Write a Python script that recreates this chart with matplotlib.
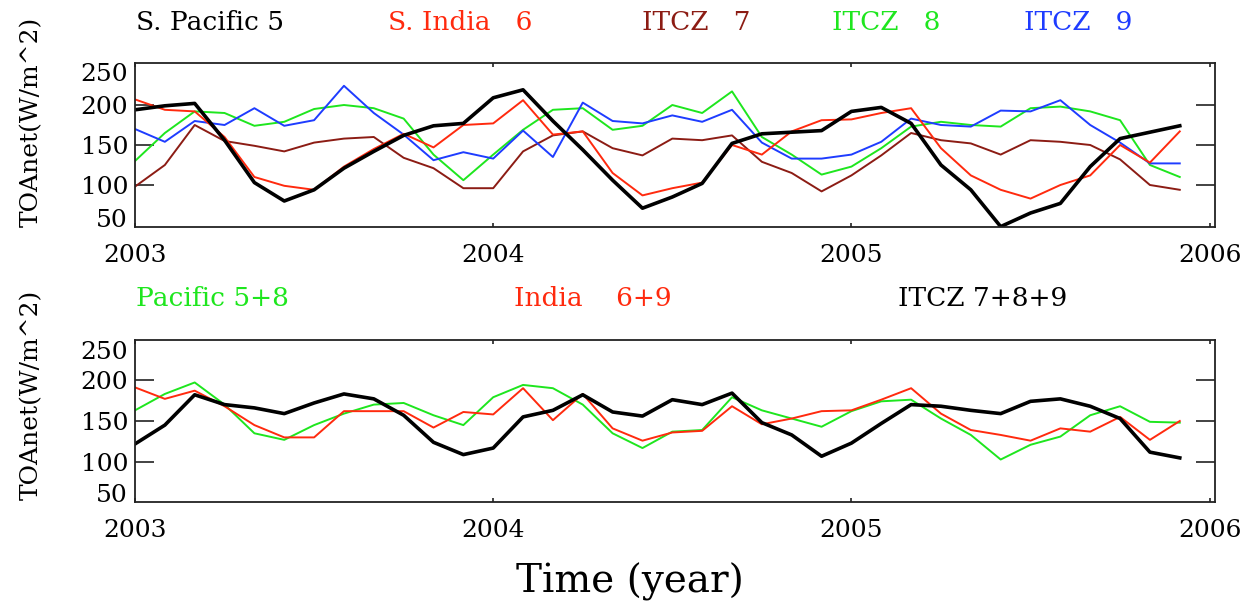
import numpy as np
import matplotlib
matplotlib.use("Agg")
import matplotlib.pyplot as plt

# monthly TOA net flux, Jan 2003 - Dec 2005
months = np.arange(36)
time = 2003 + months / 12.0

s_pacific_5 = [194, 199, 202, 156, 103, 80, 94, 121, 142, 162, 174, 177,
               209, 219, 180, 144, 106, 71, 85, 102, 152, 164, 166, 168,
               192, 197, 177, 125, 94, 48, 65, 77, 123, 158, 166, 174]
s_india_6 = [207, 194, 192, 160, 110, 99, 94, 123, 145, 164, 147, 175,
             177, 206, 163, 167, 115, 87, 96, 103, 150, 138, 167, 181,
             182, 190, 196, 146, 112, 94, 83, 100, 112, 150, 128, 167]
itcz_7 = [98, 125, 175, 155, 149, 142, 153, 158, 160, 134, 121, 96,
          96, 142, 162, 167, 146, 137, 158, 156, 162, 129, 115, 92,
          112, 137, 165, 156, 152, 138, 156, 154, 150, 132, 100, 94]
itcz_8 = [130, 165, 192, 190, 174, 179, 195, 200, 196, 183, 138, 106,
          138, 169, 194, 196, 169, 174, 200, 190, 217, 160, 138, 113,
          123, 146, 173, 179, 175, 173, 196, 198, 192, 181, 125, 110]
itcz_9 = [170, 154, 180, 175, 196, 174, 181, 224, 190, 163, 131, 141,
          133, 168, 135, 203, 180, 177, 187, 179, 194, 153, 133, 133,
          138, 154, 183, 175, 173, 193, 192, 206, 175, 153, 127, 127]

pacific_5_8 = [163, 183, 197, 170, 135, 127, 145, 159, 170, 172, 157, 145,
               179, 194, 190, 170, 135, 117, 137, 139, 179, 163, 153, 143,
               162, 174, 176, 153, 133, 103, 121, 131, 157, 168, 149, 148]
india_6_9 = [191, 177, 187, 168, 145, 130, 130, 162, 162, 162, 142, 161,
             158, 190, 151, 183, 141, 126, 136, 138, 168, 146, 153, 162,
             163, 176, 190, 159, 139, 133, 126, 141, 137, 155, 127, 150]
itcz_7_8_9 = [122, 145, 182, 170, 166, 159, 172, 183, 177, 157, 124, 109,
              117, 155, 163, 182, 161, 156, 176, 170, 184, 148, 133, 107,
              123, 147, 170, 168, 163, 159, 174, 177, 168, 153, 112, 105]

years = [2003, 2004, 2005, 2006]
year_labels = ["2003", "2004", "2005", "2006"]

BLACK = "#000000"
RED = "#ff2a0e"
BROWN = "#8c1c14"
GREEN = "#1ee61e"
BLUE = "#1e3cff"

W, H = 1252, 612
fig = plt.figure(figsize=(W / 100, H / 100), dpi=100)
font = "DejaVu Serif"


def make_axes(top, bottom, ylim, extra_ticks, label_y):
    ax = fig.add_axes([135 / W, 1 - bottom / H, 1080 / W, (bottom - top) / H])
    ax.set_xlim(2003, 2006.015)
    ax.set_ylim(*ylim)
    ax.set_xticks(years, labels=year_labels)
    ax.set_yticks([100, 150, 200], labels=["100", "150", "200"])
    ax.set_yticks(extra_ticks, labels=["50", "250"], minor=True)
    ax.tick_params(axis="x", which="major", direction="in", length=3, width=1.2,
                   top=True, pad=12, labelsize=18, color="#222222")
    ax.tick_params(axis="y", which="major", direction="in", length=14, width=1.2,
                   right=True, pad=5, labelsize=18, color="#222222")
    ax.tick_params(axis="y", which="minor", length=0, pad=5, labelsize=18)
    for lab in ax.get_xticklabels() + ax.get_yticklabels(which="both"):
        lab.set_family(font)
    for sp in ax.spines.values():
        sp.set_linewidth(1.3)
        sp.set_color("#222222")
    ax.set_ylabel("TOAnet(W/m^2)", family=font, fontsize=18)
    ax.yaxis.set_label_coords(-0.085, label_y)
    return ax


# upper panel: individual regions
ax1 = make_axes(63, 227, (47.5, 252.5), [59, 241], 0.64)
ax1.plot(time, itcz_7, color=BROWN, lw=1.4)
ax1.plot(time, itcz_8, color=GREEN, lw=1.4)
ax1.plot(time, itcz_9, color=BLUE, lw=1.4)
ax1.plot(time, s_india_6, color=RED, lw=1.4)
ax1.plot(time, s_pacific_5, color=BLACK, lw=2.6)

# lower panel: combined regions
ax2 = make_axes(340, 502, (51.2, 248.8), [62, 237], 0.66)
ax2.plot(time, pacific_5_8, color=GREEN, lw=1.4)
ax2.plot(time, india_6_9, color=RED, lw=1.4)
ax2.plot(time, itcz_7_8_9, color=BLACK, lw=2.6)

top_titles = [("S. Pacific 5", BLACK, 136), ("S. India   6", RED, 388),
              ("ITCZ   7", BROWN, 642), ("ITCZ   8", GREEN, 832),
              ("ITCZ   9", BLUE, 1024)]
for txt, col, xp in top_titles:
    fig.text(xp / W, 1 - 22 / H, txt, color=col, family=font, fontsize=19,
             ha="left", va="center")

bottom_titles = [("Pacific 5+8", GREEN, 136), ("India    6+9", RED, 514),
                 ("ITCZ 7+8+9", BLACK, 898)]
for txt, col, xp in bottom_titles:
    fig.text(xp / W, 1 - 298 / H, txt, color=col, family=font, fontsize=19,
             ha="left", va="center")

fig.text(630 / W, 1 - 582 / H, "Time (year)", family=font, fontsize=28,
         ha="center", va="center")

fig.savefig("out.png", dpi=100)
